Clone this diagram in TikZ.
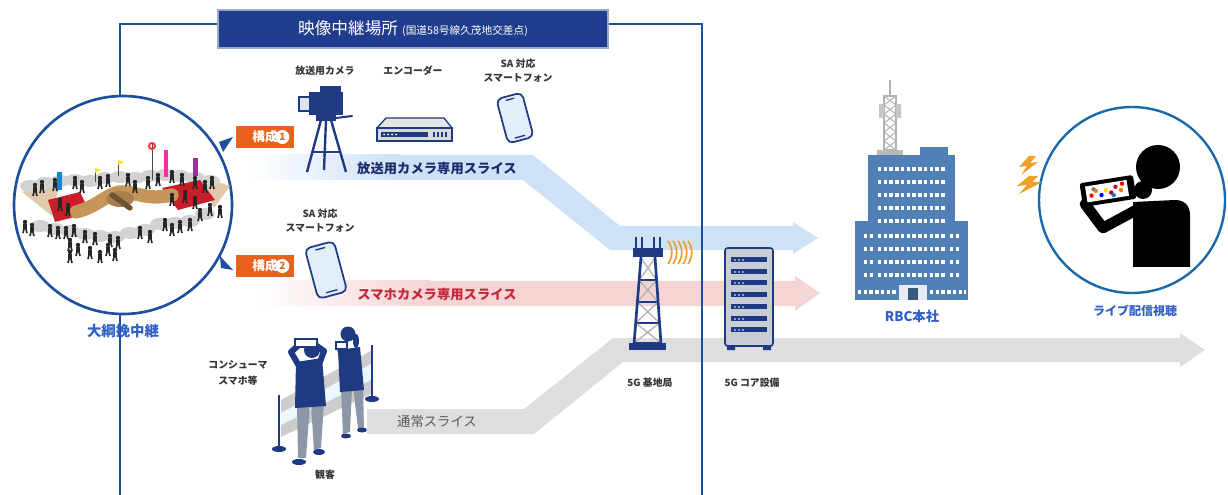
\documentclass[tikz,border=0pt]{standalone}
\usepackage{fontspec}
\setmainfont{Noto Sans CJK JP}
\usetikzlibrary{positioning}

\definecolor{frameblue}{RGB}{29,79,156}
\definecolor{titleblue}{RGB}{31,61,140}
\definecolor{navy}{RGB}{30,58,130}
\definecolor{bandblue}{RGB}{206,225,247}
\definecolor{bandred}{RGB}{245,212,212}
\definecolor{bandgray}{RGB}{222,222,222}
\definecolor{cfgorange}{RGB}{232,98,28}
\definecolor{lblblue}{RGB}{47,95,200}
\definecolor{bldblue}{RGB}{80,128,182}
\definecolor{sigorange}{RGB}{240,160,40}
\definecolor{txtgray}{RGB}{51,51,51}
\definecolor{rackgray}{RGB}{200,204,212}
\definecolor{legsgray}{RGB}{140,152,168}
\definecolor{slicered}{RGB}{196,40,58}
\definecolor{slicenavy}{RGB}{28,44,110}
\definecolor{phoneblue}{RGB}{227,238,251}
\definecolor{ropetan}{RGB}{196,150,90}
\definecolor{matred}{RGB}{200,30,40}

\tikzset{every picture/.style={line width=0.75pt}}
\tikzset{
  eqlbl/.style={inner sep=0.75pt, align=center, text=txtgray, font=\fontsize{7.4}{10.5}\selectfont\bfseries},
  placelbl/.style={inner sep=0.75pt, text=lblblue, font=\fontsize{10}{12}\selectfont\bfseries},
  slicelbl/.style={inner sep=0.75pt, font=\fontsize{10}{12}\selectfont\bfseries},
  cfgbox/.style={fill=cfgorange, text=white, minimum width=43.5pt, minimum height=16.5pt, inner sep=0pt, font=\fontsize{9.5}{11}\selectfont\bfseries},
  cfgnum/.style={circle, fill=white, text=cfgorange, inner sep=0pt, minimum size=10.5pt, font=\fontsize{7.5}{8}\selectfont\bfseries},
  sphone/.pic={
    \draw[navy, fill=phoneblue, line width=1.3pt, rounded corners=4pt] (-15,-26) rectangle (15,26);
    \draw[navy, line width=1pt] (-6,-22) -- (6,-22);
    \draw[navy, line width=1pt] (-5,22) -- (5,22);
  }
}

\begin{document}
\begin{tikzpicture}[x=0.75pt,y=0.75pt,yscale=-1,xscale=1]
\useasboundingbox (0,0) rectangle (1228,495);

%Slice bands
\shade[left color=white, right color=bandblue] (250,155) rectangle (400,180);
\fill[bandblue] (399,155) -- (533,155) -- (620,226) -- (793,226) -- (793,222) -- (818,238) -- (793,254) -- (793,250) -- (610,250) -- (523,180) -- (399,180) -- cycle;
\shade[left color=white, right color=bandred] (255,281) rectangle (430,306);
\fill[bandred] (429,281) -- (795,281) -- (795,276) -- (820,293) -- (795,311) -- (795,306) -- (429,306) -- cycle;
\fill[bandgray] (367,409) -- (524,409) -- (613,338) -- (1180,338) -- (1180,333) -- (1205,350) -- (1180,367) -- (1180,362) -- (623,362) -- (534,434) -- (367,434) -- cycle;

%Frame of the venue
\draw[frameblue, line width=2.2pt] (120,495) -- (120,24) -- (702,24) -- (702,495);
\draw (413,29) node (title) [fill=titleblue, draw=titleblue!45!white, line width=0.8pt, minimum width=292.5pt, minimum height=28.5pt, text=white, inner sep=0pt] {{\fontsize{12.5}{15}\selectfont 映像中継場所}\hspace{3pt}{\fontsize{8}{9}\selectfont (国道58号線久茂地交差点)}};

%Shape: Circle, tug of war scene
\node (venue) [circle, draw=frameblue, fill=white, line width=2pt, minimum size=163.5pt] at (123,205) {};
\fill[frameblue] (219,142) -- (223,152) -- (233,137) -- cycle;
\fill[frameblue] (220,256) -- (221,268) -- (233,270) -- cycle;
% ground and crowd
\fill[ropetan!50] (22,192) -- (60,182) -- (52,216) -- cycle;
\fill[ropetan!50] (200,176) -- (230,186) -- (214,208) -- cycle;
\foreach \x/\y in {30/186,45/183,60/181,75/180,90/181,105/178,120/177,135/178,150/176,165/175,180/176,195/178,210/181,
                   40/226,55/229,70/231,85/234,100/236,115/237,130/233,145/230,160/224,175/223,190/221,205/214}
  \fill[gray!35] (\x,\y) ellipse (10 and 6);
\fill[matred] (48,200) -- (80,192) -- (90,213) -- (55,222) -- cycle;
\fill[matred] (162,188) -- (200,180) -- (215,200) -- (178,210) -- cycle;
% rope
\draw[ropetan, line width=10pt, line cap=round] (76,212) .. controls (100,206) and (110,190) .. (125,192) .. controls (140,194) and (150,200) .. (172,195);
\fill[ropetan!85!black] (120,199) ellipse (14 and 8);
\draw[ropetan!55!black, line width=4pt, line cap=round] (112,195) -- (130,208);
% flags
\fill[cyan!70!blue] (57,172) rectangle (62,190);
\draw[black!70] (95,168) -- (95,182) (118,160) -- (118,176);
\fill[yellow!90!orange] (95,168) -- (101,170) -- (95,173) -- cycle;
\fill[yellow!90!orange] (118,160) -- (124,162) -- (118,165) -- cycle;
\draw[black!70] (152,143) -- (152,180);
\draw[red!80, line width=1.5pt] (152,146) circle (3);
\fill[magenta!80] (164,150) rectangle (168,177);
\fill[violet!80] (193,158) rectangle (198,176);
% people
\foreach \x/\y in {35/185,42/182,55/180,75/178,82/182,100/178,108/176,128/175,135/182,148/178,158/175,172/172,182/175,195/178,205/182,212/178,
                   60/200,68/205,172/195,185/192,195/198,
                   25/222,32/225,50/226,58/228,66/228,74/226,85/232,95/234,110/236,118/238,165/220,172/225,180/222,190/220,200/210,210/205,220/207,
                   70/240,78/245,90/248,100/252,108/245,115/250,70/252,140/228,150/232}
{
  \fill[black!85] (\x,\y) circle (2.2);
  \fill[black!85] (\x-2,\y+2.5) rectangle (\x+2,\y+7);
  \draw[black!85, line width=1.2pt] (\x-1,\y+7) -- (\x-2,\y+11) (\x+1,\y+7) -- (\x+2,\y+11);
}
\draw (venue.south) ++(0,16) node (venuelbl) [placelbl, font=\fontsize{10.8}{12}\selectfont\bfseries] {大綱挽中継};

%Configuration tags
\node (cfgone) [cfgbox] at (265,137) {構成\hspace{13pt}};
\node (cfgonenum) [cfgnum, left=3.5pt of cfgone.east] {1};
\node (cfgtwo) [cfgbox] at (265,266) {構成\hspace{13pt}};
\node (cfgtwonum) [cfgnum, left=3.5pt of cfgtwo.east] {2};

%Broadcast camera on tripod
\draw[navy, line width=1.8pt] (321,120) -- (307,172) (326,120) -- (324,170) (331,120) -- (346,172);
\draw[navy, line width=1pt] (312,152) -- (341,152);
\fill[navy] (316,114) rectangle (336,121);
\draw[navy, line width=1.5pt, line cap=round] (336,118) -- (352,116);
\fill[navy] (309,92) rectangle (343,115);
\fill[navy] (320,86) rectangle (341,93);
\draw[navy, fill=navy!15, line width=1.2pt] (299,97) rectangle (310,111);

%Encoder
\draw[navy, fill=gray!20, line width=1pt] (377,128) -- (386,118) -- (444,118) -- (452,128) -- cycle;
\draw[navy, fill=gray!30, line width=1pt] (377,128) rectangle (452,141);
\fill[navy] (381,132) rectangle (428,137);
\foreach \x in {384,388,392,396} \fill[white] (\x,134.5) circle (1);
\foreach \x in {434,438,442,446} \fill[navy] (\x-1,132) rectangle (\x+1,137);

%Smartphones
\pic[rotate=15, scale=0.88] at (515,118) {sphone};
\pic[rotate=15] at (326,270) {sphone};

%Equipment labels
\draw (325,71) node (camlbl) [eqlbl] {放送用カメラ};
\draw (413,71) node (enclbl) [eqlbl] {エンコーダー};
\draw (518,71) node (saone) [eqlbl] {SA 対応\\スマートフォン};
\draw (320,221) node (satwo) [eqlbl] {SA 対応\\スマートフォン};

%Slice labels
\draw (437,168) node (slicecam) [slicelbl, text=slicenavy] {放送用カメラ専用スライス};
\draw (437,294) node (slicesp) [slicelbl, text=slicered] {スマホカメラ専用スライス};
\draw (437,421) node (slicenorm) [slicelbl, text=black!65, font=\fontsize{10}{12}\selectfont] {通常スライス};

%Barrier
\fill[gray!40] (281,400) -- (371,351) -- (371,394) -- (281,437) -- cycle;
\fill[cyan!8] (281,413) -- (371,364) -- (371,380) -- (281,425) -- cycle;
\draw[navy, line width=2pt] (279,395) -- (279,448) (372,345) -- (372,398);
\fill[navy] (279,449) ellipse (7 and 3) (372,399) ellipse (7 and 3);
%Woman
\fill[legsgray] (341,388) -- (352,388) -- (350,432) -- (343,434) -- cycle;
\fill[legsgray] (353,387) -- (363,386) -- (364,428) -- (358,428) -- cycle;
\fill[navy] (346,436) ellipse (5 and 2.5) (362,430) ellipse (5 and 2.5);
\fill[navy] (338,350) -- (360,347) -- (364,390) -- (340,392) -- cycle;
\fill[navy] (348,334) circle (7.5);
\fill[navy] (356,341) ellipse (3 and 7);
\draw[navy, line width=3pt, line cap=round] (341,358) -- (339,348);
\draw[navy, fill=white, line width=0.8pt] (336,342) rectangle (347,349);
%Man
\fill[legsgray] (297,404) -- (310,404) -- (306,458) -- (298,458) -- cycle;
\fill[legsgray] (311,404) -- (324,403) -- (321,448) -- (314,450) -- cycle;
\fill[navy] (299,462) ellipse (7 and 3) (319,452) ellipse (6 and 3);
\fill[navy] (296,362) -- (322,358) -- (326,406) -- (295,408) -- cycle;
\fill[navy] (312,350) circle (8);
\draw[navy, line width=4.5pt, line cap=round, line join=round] (299,366) -- (291,352) -- (300,344) (320,362) -- (324,351) -- (314,344);
\draw[navy, fill=white, line width=0.8pt] (295,339) rectangle (317,347);
\draw (238,373) node (conslbl) [eqlbl, font=\fontsize{7.4}{12}\selectfont\bfseries] {コンシューマ\\スマホ等};
\draw (325,475) node (audlbl) [eqlbl] {観客};

%5G base station
\foreach \x in {636,642,654,660} \draw[navy, line width=1pt] (\x,237) -- (\x,256);
\fill[navy] (633,248) rectangle (663,257);
\foreach \ya/\la/\ra/\yb/\lb/\rb in {258/641/655/280/639.2/656.6, 280/639.2/656.6/302/637.4/658.1, 302/637.4/658.1/323/635.6/659.6, 323/635.6/659.6/343/634/661}
{
  \draw[gray!60, line width=1pt] (\la,\ya) -- (\rb,\yb) (\ra,\ya) -- (\lb,\yb);
  \draw[navy, line width=1.3pt] (\lb,\yb) -- (\rb,\yb);
}
\draw[navy, line width=2pt] (641,257) -- (634,344) (655,257) -- (661,344);
\fill[navy] (629,343) rectangle (666,350);
\foreach \dx in {0,5,10,15,20} \draw[sigorange, line width=1.3pt] (668+\dx,241) .. controls (673+\dx,248) and (673+\dx,257) .. (668+\dx,264);
\draw (650,383) node (bslbl) [eqlbl] {5G 基地局};

%5G core rack
\draw[navy, fill=rackgray, line width=1.2pt, rounded corners=2pt] (725,248) rectangle (773,346);
\fill[navy] (727,346) rectangle (735,350) (763,346) rectangle (771,350);
\foreach \y in {260,272,283,295,307,319,330}
{
  \fill[navy] (731,\y-2.5) rectangle (767,\y+2.5);
  \foreach \dx in {0,4,8} \fill[white] (735+\dx,\y) circle (0.9);
}
\draw (752,383) node (corelbl) [eqlbl] {5G コア設備};

%RBC head office
\draw[gray!60, line width=1pt] (890,80) -- (890,96);
\draw[gray!60, line width=1pt] (884,96) rectangle (896,150);
\foreach \y in {96,105,114,123,132,141} \draw[gray!60] (884,\y) -- (896,\y+9) (896,\y) -- (884,\y+9);
\fill[gray!45] (879,104) rectangle (884,118) (896,104) rectangle (901,118);
\fill[gray!55] (877,150) rectangle (903,155);
\fill[bldblue] (920,147) rectangle (948,155);
\fill[bldblue] (868,155) rectangle (955,226);
\fill[bldblue] (855,221) rectangle (968,300);
\foreach \y in {169,182,195,208,221}
  \draw[white, line width=3pt, dash pattern=on 2.6pt off 1.7pt] (878,\y) -- (946,\y);
\foreach \y in {236,249,262,275}
{
  \draw[white, line width=3pt, dash pattern=on 2.6pt off 1.7pt] (864,\y) -- (874,\y);
  \draw[white, line width=3pt, dash pattern=on 2.6pt off 1.7pt] (878,\y) -- (946,\y);
  \draw[white, line width=3pt, dash pattern=on 2.6pt off 1.7pt] (950,\y) -- (960,\y);
}
\draw[white, line width=3pt, dash pattern=on 2.6pt off 1.7pt] (858,292) -- (896,292) (930,292) -- (966,292);
\fill[white!85!bldblue] (899,285) rectangle (927,300);
\fill[bldblue!70!black] (908,288) rectangle (918,300);
\draw (912,316) node (rbclbl) [placelbl] {RBC本社};

%Live viewer
\node (viewer) [circle, draw=frameblue!85!cyan, fill=white, line width=1.8pt, minimum size=139.5pt] at (1132,200) {};
\fill[sigorange] (1029,156) -- (1019,167) -- (1027,166) -- (1021,175) -- (1038,162) -- (1030,163) -- (1036,156) -- cycle;
\fill[sigorange] (1029,176) -- (1017,186) -- (1027,185) -- (1019,194) -- (1042,182) -- (1032,182) -- (1038,176) -- cycle;
\fill (1158,167) circle (22);
\fill (1133,202) -- (1175,200) .. controls (1188,200) and (1190,210) .. (1190,215) -- (1190,267) -- (1133,267) -- cycle;
\draw[line width=8pt, line cap=round, line join=round] (1085,204) -- (1103,228) -- (1138,209);
\fill (1143,190) circle (9);
\begin{scope}[shift={(1108,191)}, rotate=-9]
  \fill[rounded corners=2pt] (-27,-12) rectangle (27,12);
  \fill[white] (-22,-8) rectangle (20,8);
  \foreach \x/\y/\c in {-17/2/red,-12/-2/orange,-7/3/blue,-2/-1/yellow!80!orange,3/2/red!70!black,8/-3/purple,13/1/orange,-14/-4/gray,5/5/cyan!60!blue,15/-5/red}
    \fill[\c] (\x,\y) circle (2.2);
\end{scope}
\draw (1135,311) node (viewlbl) [placelbl, font=\fontsize{9}{11}\selectfont\bfseries] {ライブ配信視聴};

\end{tikzpicture}
\end{document}
